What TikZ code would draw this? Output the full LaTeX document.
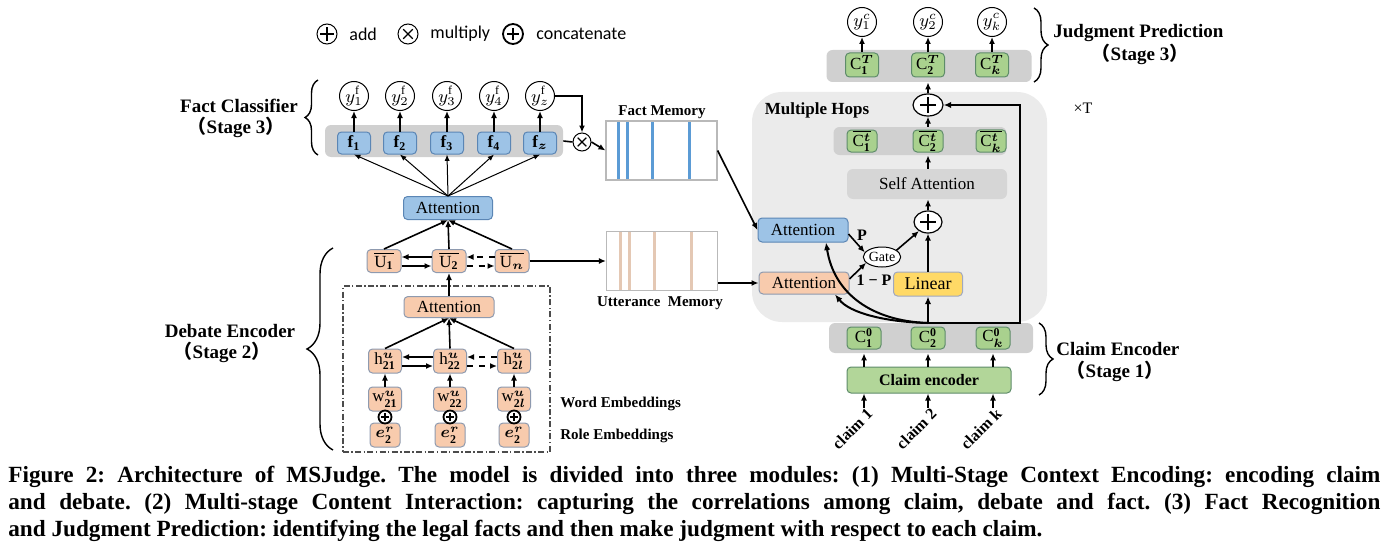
\documentclass[tikz,border=0pt]{standalone}
\usepackage{amsmath,bm}
\usepackage{fontspec}
\setmainfont{Liberation Serif}
\newfontfamily\cjk{Noto Sans CJK SC}
\newfontfamily\legendfont{Carlito}
\usetikzlibrary{arrows.meta,shapes.geometric,decorations.pathreplacing}
\definecolor{blueF}{HTML}{9DC3E6}
\definecolor{blueD}{HTML}{5B86B5}
\definecolor{beigeF}{HTML}{F8CBAD}
\definecolor{beigeD}{HTML}{8E9AAF}
\definecolor{greenF}{HTML}{A9D18E}
\definecolor{greenD}{HTML}{5E8C6A}
\definecolor{yellowF}{HTML}{FFD966}
\definecolor{yellowD}{HTML}{A0A8C0}
\definecolor{barF}{HTML}{D0D0D0}
\definecolor{hopF}{HTML}{EBEBEB}
\definecolor{selfF}{HTML}{D6D6D6}
\definecolor{memB}{HTML}{5B9BD5}
\definecolor{memU}{HTML}{E4C8B4}
\tikzset{
  box/.style={rounded corners=2pt, draw, line width=0.5pt, inner sep=0pt, align=center, font=\fontsize{8.5}{10}\selectfont},
  bluebox/.style={box, fill=blueF, draw=blueD},
  beigebox/.style={box, fill=beigeF, draw=beigeD},
  greenbox/.style={box, fill=greenF, draw=greenD},
  bar/.style={rounded corners=3pt, fill=barF, inner sep=0pt},
  arr/.style={-{Latex[length=3.5pt,width=3pt]}, line width=0.8pt},
  harr/.style={-{Latex[length=3.8pt,width=3.2pt]}, line width=1pt},
  tarr/.style={-{Latex[length=3.2pt,width=2.6pt]}, line width=0.5pt},
  lbl/.style={inner sep=0pt},
  blbl/.style={inner sep=0pt, font=\bfseries\fontsize{9.5}{11}\selectfont},
  mlbl/.style={inner sep=0pt, font=\bfseries\fontsize{7.5}{9}\selectfont},
  ycirc/.style={circle, draw, fill=white, line width=0.5pt, minimum size=14.5pt, inner sep=0pt, font=\fontsize{9}{10}\selectfont},
  addsym/.style={circle, draw, fill=white, line width=0.5pt, minimum size=#1, inner sep=0pt,
    path picture={\draw[line width=0.6pt, shift={(path picture bounding box.center)}] (-0.33*#1,0pt) -- (0.33*#1,0pt) (0pt,-0.33*#1) -- (0pt,0.33*#1);}},
  mulsym/.style={circle, draw, fill=white, line width=0.5pt, minimum size=#1, inner sep=0pt,
    path picture={\draw[line width=0.6pt, shift={(path picture bounding box.center)}] (-0.24*#1,-0.24*#1) -- (0.24*#1,0.24*#1) (-0.24*#1,0.24*#1) -- (0.24*#1,-0.24*#1);}},
  catsym/.style={circle, draw, fill=white, line width=0.9pt, minimum size=#1, inner sep=0pt,
    path picture={\draw[line width=1.2pt, shift={(path picture bounding box.center)}] (-0.3*#1,0pt) -- (0.3*#1,0pt) (0pt,-0.3*#1) -- (0pt,0.3*#1);}},
  eplus/.style={ellipse, draw, fill=white, line width=0.6pt, minimum width=15pt, minimum height=11pt, inner sep=0pt,
    path picture={\draw[line width=0.7pt, shift={(path picture bounding box.center)}] (-4pt,0pt) -- (4pt,0pt) (0pt,-4pt) -- (0pt,4pt);}},
  membox/.style={draw=gray!55, line width=0.6pt, inner sep=0pt, minimum width=55.5pt, minimum height=29.5pt},
  brace/.style={decorate, line width=0.7pt, decoration={brace, amplitude=#1}},
  captxt/.style={inner sep=0pt, anchor=west, font=\bfseries\fontsize{11.6}{13}\selectfont\frenchspacing},
}
\begin{document}
\begin{tikzpicture}[x=0.5pt,y=-0.5pt]
\useasboundingbox (0,0) rectangle (1400,556);

% ---------- legend
\node[addsym=10pt] (lgadd) at (327,34) {};
\node[lbl, anchor=west, font=\legendfont\fontsize{9}{10}\selectfont] (lgaddt) at (349,34) {add};
\node[mulsym=10pt] (lgmul) at (408,34) {};
\node[lbl, anchor=west, font=\legendfont\fontsize{9}{10}\selectfont] (lgmult) at (430,34) {multiply};
\node[catsym=10pt] (lgcat) at (513,34) {};
\node[lbl, anchor=west, font=\legendfont\fontsize{9}{10}\selectfont] (lgcatt) at (536,34) {concatenate};

% ---------- fact classifier
\node[bar, minimum width=119pt, minimum height=16pt] (fbar) at (444,141) {};
\node[bluebox, minimum width=16.5pt, minimum height=11pt] (f1) at (354,143) {$\mathbf{f}_{\mathbf 1}$};
\node[bluebox, minimum width=16.5pt, minimum height=11pt] (f2) at (400,143) {$\mathbf{f}_{\mathbf 2}$};
\node[bluebox, minimum width=16.5pt, minimum height=11pt] (f3) at (447,143) {$\mathbf{f}_{\mathbf 3}$};
\node[bluebox, minimum width=16.5pt, minimum height=11pt] (f4) at (494,143) {$\mathbf{f}_{\mathbf 4}$};
\node[bluebox, minimum width=16.5pt, minimum height=11pt] (fz) at (540,143) {$\mathbf{f}_{\bm z}$};
\node[ycirc] (yf1) at (354,96) {$y^{\mathrm f}_{1}$};
\node[ycirc] (yf2) at (400,96) {$y^{\mathrm f}_{2}$};
\node[ycirc] (yf3) at (447,96) {$y^{\mathrm f}_{3}$};
\node[ycirc] (yf4) at (494,96) {$y^{\mathrm f}_{4}$};
\node[ycirc] (yfz) at (540,96) {$y^{\mathrm f}_{z}$};
\foreach \n in {1,2,3,4,z} \draw[arr] (f\n.north) -- (yf\n.south);
\node[mulsym=9pt] (mul) at (582,142) {};
\draw[arr] (yfz.east) -| (mul.north);
\draw[line width=0.8pt] (fbar.east) -- (mul.west);

\node[bluebox, minimum width=44.5pt, minimum height=11.5pt] (att1) at (448,208) {Attention};
\foreach \n in {1,2,3,4,z} \draw[tarr] (att1.north) -- (f\n.south);

\draw[brace=6.5pt] (318,155) -- (318,80);
\node[blbl] (fcl) at (239,106) {Fact Classifier};
\node[blbl] (fcl2) at (236,127) {{\cjk （}Stage 3{\cjk ）}};

% ---------- memories
\node[membox] (mem1) at (661.5,150.5) {};
\foreach \x in {618,627,652,689} \draw[memB, line width=1.5pt] (\x,121.3) -- (\x,179.7);
\node[membox] (mem1b) at (661.5,150.5) {};
\node[mlbl] (mem1t) at (662,112) {Fact Memory};
\draw[arr] (mul.east) -- (mem1.west);

\node[membox] (mem2) at (662,261) {};
\foreach \x in {620,629,654,691} \draw[memU, line width=1.5pt] (\x,231.8) -- (\x,290.2);
\node[membox] (mem2b) at (662,261) {};
\node[mlbl] (mem2t) at (660,303) {Utterance\ \ Memory};

% ---------- debate encoder
\node[draw=gray!60!black, line width=0.6pt, dash pattern=on 3pt off 1.2pt on 0.7pt off 1.2pt, minimum width=103.5pt, minimum height=83pt, inner sep=0pt] (dbox) at (446.5,369) {};

\node[beigebox, minimum width=17pt, minimum height=11.5pt] (u1) at (384,261) {$\overline{\mathrm U_{\mathbf 1}}$};
\node[beigebox, minimum width=17pt, minimum height=11.5pt] (u2) at (449,261) {$\overline{\mathrm U_{\mathbf 2}}$};
\node[beigebox, minimum width=17pt, minimum height=11.5pt] (un) at (512,261) {$\overline{\mathrm U_{\bm n}}$};
\foreach \n in {1,2,n} \draw[arr] (u\n.north) -- (att1.south);
\draw[arr] ([yshift=2pt]u2.west) -- ([yshift=2pt]u1.east);
\draw[arr] ([yshift=-2.5pt]u1.east) -- ([yshift=-2.5pt]u2.west);
\draw[arr, dashed] ([yshift=2pt]un.west) -- ([yshift=2pt]u2.east);
\draw[arr, dashed] ([yshift=-2.5pt]u2.east) -- ([yshift=-2.5pt]un.west);
\draw[arr] (un.east) -- (mem2.west);

\node[beigebox, minimum width=45pt, minimum height=10.5pt] (att2) at (449,307) {Attention};
\draw[arr] (att2.north) -- (u2.south);

\node[beigebox, minimum width=16.5pt, minimum height=12pt] (h1) at (385,361) {$\mathrm h^{\bm u}_{\mathbf{21}}$};
\node[beigebox, minimum width=16.5pt, minimum height=12pt] (h2) at (450,361) {$\mathrm h^{\bm u}_{\mathbf{22}}$};
\node[beigebox, minimum width=16.5pt, minimum height=12pt] (hl) at (514,361) {$\mathrm h^{\bm u}_{\mathbf{2}\bm l}$};
\foreach \n in {1,2,l} \draw[arr] (h\n.north) -- (att2.south);
\draw[arr] ([yshift=2pt]h2.west) -- ([yshift=2pt]h1.east);
\draw[arr] ([yshift=-2.5pt]h1.east) -- ([yshift=-2.5pt]h2.west);
\draw[arr, dashed] ([yshift=2pt]hl.west) -- ([yshift=2pt]h2.east);
\draw[arr, dashed] ([yshift=-2.5pt]h2.east) -- ([yshift=-2.5pt]hl.west);

\node[beigebox, minimum width=16.5pt, minimum height=12pt] (w1) at (385,399) {$\mathrm w^{\bm u}_{\mathbf{21}}$};
\node[beigebox, minimum width=16.5pt, minimum height=12pt] (w2) at (450,399) {$\mathrm w^{\bm u}_{\mathbf{22}}$};
\node[beigebox, minimum width=16.5pt, minimum height=12pt] (wl) at (514,399) {$\mathrm w^{\bm u}_{\mathbf{2}\bm l}$};
\foreach \n in {1,2,l} \draw[arr] (w\n.north) -- (h\n.south);

\node[beigebox, minimum width=15pt, minimum height=12pt] (e1) at (385,435) {$\bm e^{\bm r}_{\mathbf 2}$};
\node[beigebox, minimum width=15pt, minimum height=12pt] (e2) at (450,435) {$\bm e^{\bm r}_{\mathbf 2}$};
\node[beigebox, minimum width=15pt, minimum height=12pt] (el) at (514,435) {$\bm e^{\bm r}_{\mathbf 2}$};
\node[catsym=6.5pt] (c1) at (385,417) {};
\node[catsym=6.5pt] (c2) at (450,417) {};
\node[catsym=6.5pt] (cl) at (514,417) {};

\node[mlbl, anchor=west] (we) at (560,404) {Word Embeddings};
\node[mlbl, anchor=west] (re) at (560,436) {Role Embeddings};

\draw[brace=13pt] (333,450) -- (333,248);
\node[blbl] (dec) at (230,331) {Debate Encoder};
\node[blbl] (dec2) at (222,352) {{\cjk （}Stage 2{\cjk ）}};

% ---------- multiple hops
\node[fill=hopF, rounded corners=15pt, minimum width=147.5pt, minimum height=115pt, inner sep=0pt] (hops) at (899.5,207) {};
\node[lbl, font=\bfseries\fontsize{8.5}{10}\selectfont] (hopt) at (817,110) {Multiple Hops};
\node[lbl, font=\fontsize{8}{10}\selectfont] (xt) at (1083,108) {×T};

\node[bar, minimum width=102.5pt, minimum height=16pt] (tbar) at (929,66) {};
\node[greenbox, minimum width=16.5pt, minimum height=12pt] (ct1) at (862,65) {$\mathrm C^{\bm T}_{\mathbf 1}$};
\node[greenbox, minimum width=16.5pt, minimum height=12pt] (ct2) at (928,65) {$\mathrm C^{\bm T}_{\mathbf 2}$};
\node[greenbox, minimum width=16.5pt, minimum height=12pt] (ctk) at (992,65) {$\mathrm C^{\bm T}_{\bm k}$};
\node[ycirc] (yc1) at (862,22) {$y^{c}_{1}$};
\node[ycirc] (yc2) at (928,22) {$y^{c}_{2}$};
\node[ycirc] (yck) at (992,22) {$y^{c}_{k}$};
\foreach \n in {1,2,k} \draw[arr] (ct\n.north) -- (yc\n.south);

\draw[brace=7pt] (1034,8) -- (1034,82);
\node[blbl, anchor=west] (jp) at (1053,33) {Judgment Prediction};
\node[blbl] (jp2) at (1140,54) {{\cjk （}Stage 3{\cjk ）}};

\node[eplus] (add1) at (928,105) {};
\draw[arr] (add1.north) -- (tbar.south -| add1);

\node[bar, minimum width=86.5pt, minimum height=14pt] (mbar) at (920,141) {};
\node[greenbox, minimum width=15pt, minimum height=11pt] (cb1) at (862,141) {$\overline{\mathrm C^{\bm t}_{\mathbf 1}}$};
\node[greenbox, minimum width=15pt, minimum height=11pt] (cb2) at (928,141) {$\overline{\mathrm C^{\bm t}_{\mathbf 2}}$};
\node[greenbox, minimum width=15pt, minimum height=11pt] (cbk) at (991,141) {$\overline{\mathrm C^{\bm t}_{\bm k}}$};
\draw[arr] (mbar.north -| add1) -- (add1.south);

\node[fill=selfF, rounded corners=3pt, inner sep=0pt, minimum width=80pt, minimum height=15pt, font=\fontsize{8.5}{10}\selectfont] (self) at (927,184) {Self Attention};
\draw[arr] (self.north -| add1) -- (mbar.south -| add1);

\node[eplus, minimum width=14pt] (add2) at (928,222) {};
\draw[arr] (add2.north) -- (self.south -| add2);

\node[bluebox, minimum width=45pt, minimum height=12pt] (ha1) at (803,230) {Attention};
\node[beigebox, minimum width=45pt, minimum height=11pt] (ha2) at (804,283) {Attention};
\node[ellipse, draw, fill=white, line width=0.5pt, minimum width=15pt, minimum height=10pt, inner sep=0pt, font=\fontsize{7}{8}\selectfont] (gate) at (882,257) {Gate};
\node[box, fill=yellowF, draw=yellowD, minimum width=34.5pt, minimum height=12pt, font=\fontsize{9}{10}\selectfont] (lin) at (928,284) {Linear};
\node[lbl, font=\bfseries\fontsize{8}{9}\selectfont] (pl) at (862,235) {P};
\node[lbl, font=\bfseries\fontsize{8}{9}\selectfont] (pl2) at (874,280) {1 − P};

\draw[arr] (mem1.east) -- (ha1.west);
\draw[arr] (mem2.east |- ha2.west) -- (ha2.west);
\draw[arr] ([yshift=-2pt]ha1.east) -- (gate.165);
\draw[arr] ([yshift=2pt]ha2.east) -- (gate.200);
\draw[arr] (gate.25) -- (add2.225);
\draw[arr] (lin.north) -- (add2.south);

\node[bar, minimum width=102pt, minimum height=15pt] (cbar) at (931,338) {};
\node[greenbox, minimum width=17pt, minimum height=11pt] (c01) at (864,338) {$\mathrm C^{\mathbf 0}_{\mathbf 1}$};
\node[greenbox, minimum width=17pt, minimum height=11pt] (c02) at (928,338) {$\mathrm C^{\mathbf 0}_{\mathbf 2}$};
\node[greenbox, minimum width=17pt, minimum height=11pt] (c0k) at (993,338) {$\mathrm C^{\mathbf 0}_{\bm k}$};

\coordinate (hub) at (928,323);
\coordinate (rx) at (1020,323);
\draw[harr] (hub) -- (lin.south);
\draw[harr] (hub) .. controls (872,321) and (834,294) .. ([xshift=11.5pt]ha1.south);
\draw[harr] (hub) .. controls (885,322) and (850,313) .. ([xshift=15.5pt]ha2.south);
\draw[harr] (hub) -- (rx) -- (rx |- add1) -- (add1.east);

\node[box, fill=greenF!90!white, draw=greenD, minimum width=82pt, minimum height=13pt, font=\bfseries\fontsize{8}{10}\selectfont] (cenc) at (929,380) {Claim encoder};
\draw[arr] (cenc.north -| c01) -- (cbar.south -| c01);
\draw[arr] (cenc.north -| c02) -- (cbar.south -| c02);
\draw[arr] (cenc.north -| c0k) -- (cbar.south -| c0k);

\coordinate (cl1) at (864,408);
\coordinate (cl2) at (928,408);
\coordinate (clk) at (993,408);
\draw[arr] (cl1) -- (cenc.south -| cl1);
\draw[arr] (cl2) -- (cenc.south -| cl2);
\draw[arr] (clk) -- (cenc.south -| clk);
\node[lbl, rotate=45, anchor=east, font=\bfseries\fontsize{8}{9}\selectfont] (cl1t) at (870,411) {claim 1};
\node[lbl, rotate=45, anchor=east, font=\bfseries\fontsize{8}{9}\selectfont] (cl2t) at (934,411) {claim 2};
\node[lbl, rotate=45, anchor=east, font=\bfseries\fontsize{8}{9}\selectfont] (clkt) at (999,411) {claim k};

\draw[brace=7pt] (1039,323) -- (1039,395);
\node[blbl, anchor=west] (ce) at (1056,349) {Claim Encoder};
\node[blbl] (ce2) at (1115,371) {{\cjk （}Stage 1{\cjk ）}};

% ---------- caption
\node[captxt] (cap1) at (8,477) {\makebox[686pt][s]{Figure 2: Architecture of MSJudge. The model is divided into three modules: (1) Multi-Stage Context Encoding: encoding claim}};
\node[captxt] (cap2) at (8,504) {\makebox[686pt][s]{and debate. (2) Multi-stage Content Interaction: capturing the correlations among claim, debate and fact. (3) Fact Recognition}};
\node[captxt] (cap3) at (8,531) {and Judgment Prediction: identifying the legal facts and then make judgment with respect to each claim.};
\end{tikzpicture}
\end{document}
